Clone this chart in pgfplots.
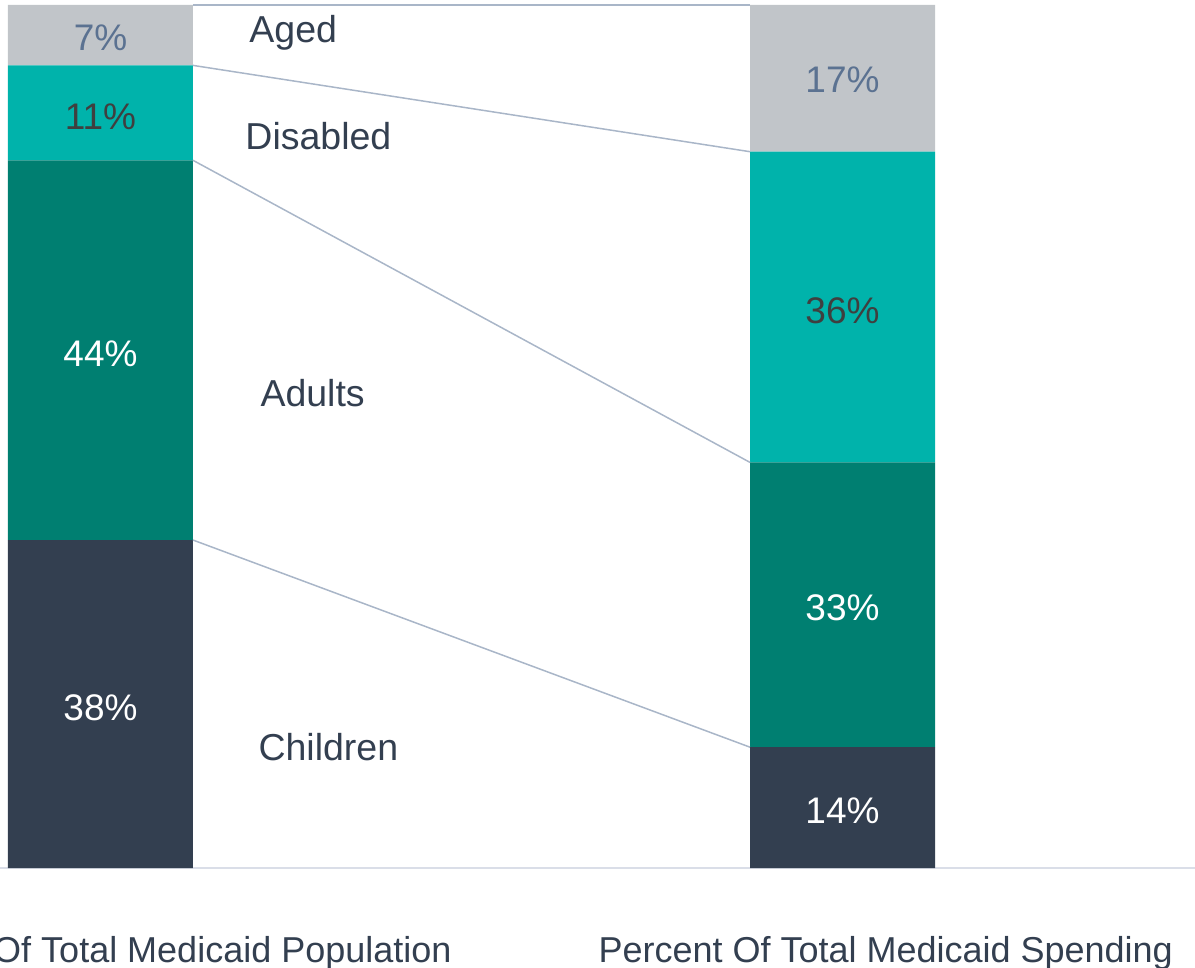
\documentclass[border=0pt]{standalone}
\usepackage{pgfplots}
\pgfplotsset{compat=1.18}
\usepackage{fontspec}
\setmainfont{Liberation Sans}

\definecolor{agedc}{HTML}{C1C5C9}
\definecolor{disc}{HTML}{00B3AB}
\definecolor{adultc}{HTML}{007F71}
\definecolor{childc}{HTML}{333F50}
\definecolor{slate}{HTML}{5B7291}
\definecolor{darktxt}{HTML}{3F3F3F}
\definecolor{linkc}{HTML}{A9B6C8}
\definecolor{basec}{HTML}{DADEE8}

\pgfplotsset{
  common/.style={
    scale only axis,
    width=478pt, height=345.2pt,
    xmin=-0.13544, xmax=1.47507,
    ymin=0, ymax=100,
    xtick=\empty, ytick=\empty,
    clip=false,
  },
}

\begin{document}
\begin{tikzpicture}
% bars
\begin{axis}[
  common,
  ybar stacked,
  bar width=74pt,
  axis x line*=bottom,
  axis line style={-, color=basec, line width=0.8pt},
  hide y axis,
]
% Children, Adults, Disabled, Aged (population, spending)
\addplot[fill=childc, draw=none] coordinates {(0,38) (1,14)};
\addplot[fill=adultc, draw=none] coordinates {(0,44) (1,33)};
\addplot[fill=disc, draw=none] coordinates {(0,11) (1,36)};
\addplot[fill=agedc, draw=none] coordinates {(0,7) (1,17)};
\end{axis}

% connectors and labels
\begin{axis}[common, hide axis]
\addplot[linkc, line width=0.6pt] coordinates {(0.1247,100) (0.8753,100)};
\addplot[linkc, line width=0.6pt] coordinates {(0.1247,93) (0.8753,83)};
\addplot[linkc, line width=0.6pt] coordinates {(0.1247,82) (0.8753,47)};
\addplot[linkc, line width=0.6pt] coordinates {(0.1247,38) (0.8753,14)};

\begin{scope}[every node/.style={font=\fontsize{14.8}{16}\selectfont, inner sep=0pt}]
\node[white] at (axis cs:0,18.6) {38\%};
\node[white] at (axis cs:0,59.6) {44\%};
\node[darktxt] at (axis cs:0,87.1) {11\%};
\node[slate] at (axis cs:0,96.2) {7\%};
\node[white] at (axis cs:1,6.6) {14\%};
\node[white] at (axis cs:1,30.1) {33\%};
\node[darktxt] at (axis cs:1,64.6) {36\%};
\node[slate] at (axis cs:1,91.3) {17\%};
\end{scope}

\begin{scope}[every node/.style={font=\fontsize{15}{17}\selectfont, text=childc, inner sep=0pt, anchor=base west}]
\node at (axis cs:0.2001,95.71) {Aged};
\node at (axis cs:0.1947,83.31) {Disabled};
\node at (axis cs:0.2150,53.42) {Adults};
\node at (axis cs:0.2123,12.40) {Children};
\end{scope}

\begin{scope}[every node/.style={font=\fontsize{14.4}{16}\selectfont, text=childc, inner sep=0pt}]
\node[anchor=base east] at (axis cs:0.4737,-10.90) {Percent Of Total Medicaid Population};
\node[anchor=base west] at (axis cs:0.6705,-10.90) {Percent Of Total Medicaid Spending};
\end{scope}
\end{axis}

\pgfresetboundingbox
\useasboundingbox ([yshift=-40pt]current axis.south west) rectangle ([yshift=2pt]current axis.north east);
\end{tikzpicture}
\end{document}
